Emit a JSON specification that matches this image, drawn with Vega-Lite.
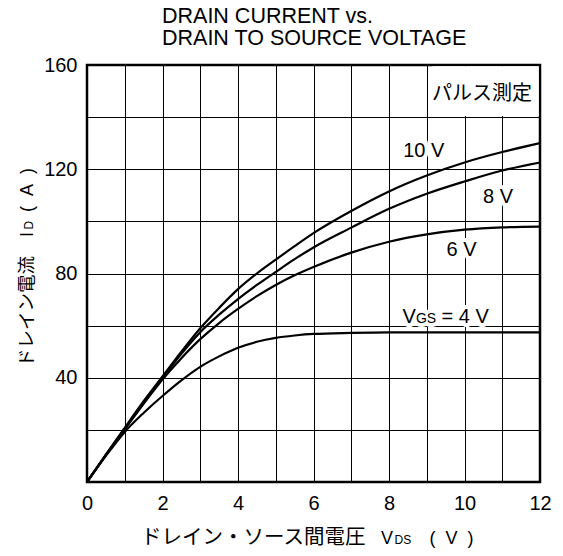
{
  "$schema": "https://vega.github.io/schema/vega-lite/v6.json",
  "width": 453,
  "height": 417,
  "autosize": {"type": "none"},
  "padding": {"left": 87, "top": 65, "right": 23, "bottom": 74},
  "background": "white",
  "config": {"view": {"stroke": "#000", "strokeWidth": 2.5}, "font": "Liberation Sans"},
  "title": {"text": ["DRAIN CURRENT vs.", "DRAIN TO SOURCE VOLTAGE"], "anchor": "start", "frame": "group", "dx": 75, "dy": 32, "offset": 15, "fontSize": 21.5, "fontWeight": "normal", "font": "Liberation Sans", "lineHeight": 22.4, "baseline": "bottom", "color": "#000"},
  "datasets": {
    "curves": [
      {"vgs": "10 V", "vds": 0, "id": 0}, {"vgs": "10 V", "vds": 0.5, "id": 10.5}, {"vgs": "10 V", "vds": 1, "id": 20.8}, {"vgs": "10 V", "vds": 1.5, "id": 31}, {"vgs": "10 V", "vds": 2, "id": 40.5}, {"vgs": "10 V", "vds": 2.5, "id": 50}, {"vgs": "10 V", "vds": 3, "id": 59}, {"vgs": "10 V", "vds": 3.5, "id": 66.8}, {"vgs": "10 V", "vds": 4, "id": 74}, {"vgs": "10 V", "vds": 4.5, "id": 80}, {"vgs": "10 V", "vds": 5, "id": 85.3}, {"vgs": "10 V", "vds": 5.5, "id": 90.5}, {"vgs": "10 V", "vds": 6, "id": 95.5}, {"vgs": "10 V", "vds": 7, "id": 104}, {"vgs": "10 V", "vds": 8, "id": 111.5}, {"vgs": "10 V", "vds": 9, "id": 117.6}, {"vgs": "10 V", "vds": 10, "id": 122.6}, {"vgs": "10 V", "vds": 11, "id": 126.6}, {"vgs": "10 V", "vds": 12, "id": 130},
      {"vgs": "8 V", "vds": 0, "id": 0}, {"vgs": "8 V", "vds": 0.5, "id": 10.4}, {"vgs": "8 V", "vds": 1, "id": 20.5}, {"vgs": "8 V", "vds": 1.5, "id": 30.5}, {"vgs": "8 V", "vds": 2, "id": 40}, {"vgs": "8 V", "vds": 2.5, "id": 49.2}, {"vgs": "8 V", "vds": 3, "id": 57.5}, {"vgs": "8 V", "vds": 3.5, "id": 64.2}, {"vgs": "8 V", "vds": 4, "id": 70.2}, {"vgs": "8 V", "vds": 4.5, "id": 75.6}, {"vgs": "8 V", "vds": 5, "id": 80.6}, {"vgs": "8 V", "vds": 5.5, "id": 85.5}, {"vgs": "8 V", "vds": 6, "id": 90}, {"vgs": "8 V", "vds": 7, "id": 97.6}, {"vgs": "8 V", "vds": 8, "id": 104.8}, {"vgs": "8 V", "vds": 9, "id": 110.6}, {"vgs": "8 V", "vds": 10, "id": 115.3}, {"vgs": "8 V", "vds": 11, "id": 119.5}, {"vgs": "8 V", "vds": 12, "id": 122.6},
      {"vgs": "6 V", "vds": 0, "id": 0}, {"vgs": "6 V", "vds": 0.5, "id": 10.3}, {"vgs": "6 V", "vds": 1, "id": 20.2}, {"vgs": "6 V", "vds": 1.5, "id": 30}, {"vgs": "6 V", "vds": 2, "id": 39.3}, {"vgs": "6 V", "vds": 2.5, "id": 47.5}, {"vgs": "6 V", "vds": 3, "id": 54.8}, {"vgs": "6 V", "vds": 3.5, "id": 61}, {"vgs": "6 V", "vds": 4, "id": 66.4}, {"vgs": "6 V", "vds": 4.5, "id": 71.3}, {"vgs": "6 V", "vds": 5, "id": 75.6}, {"vgs": "6 V", "vds": 5.5, "id": 79.3}, {"vgs": "6 V", "vds": 6, "id": 82.5}, {"vgs": "6 V", "vds": 7, "id": 88}, {"vgs": "6 V", "vds": 8, "id": 92.2}, {"vgs": "6 V", "vds": 9, "id": 95}, {"vgs": "6 V", "vds": 10, "id": 96.8}, {"vgs": "6 V", "vds": 11, "id": 97.7}, {"vgs": "6 V", "vds": 12, "id": 98},
      {"vgs": "4 V", "vds": 0, "id": 0}, {"vgs": "4 V", "vds": 0.5, "id": 10}, {"vgs": "4 V", "vds": 1, "id": 19.2}, {"vgs": "4 V", "vds": 1.5, "id": 26.5}, {"vgs": "4 V", "vds": 2, "id": 33}, {"vgs": "4 V", "vds": 2.5, "id": 39}, {"vgs": "4 V", "vds": 3, "id": 44.2}, {"vgs": "4 V", "vds": 3.5, "id": 48.2}, {"vgs": "4 V", "vds": 4, "id": 51.5}, {"vgs": "4 V", "vds": 4.5, "id": 53.8}, {"vgs": "4 V", "vds": 5, "id": 55.3}, {"vgs": "4 V", "vds": 5.5, "id": 56.2}, {"vgs": "4 V", "vds": 6, "id": 56.8}, {"vgs": "4 V", "vds": 7, "id": 57.2}, {"vgs": "4 V", "vds": 8, "id": 57.4}, {"vgs": "4 V", "vds": 9, "id": 57.4}, {"vgs": "4 V", "vds": 10, "id": 57.4}, {"vgs": "4 V", "vds": 11, "id": 57.4}, {"vgs": "4 V", "vds": 12, "id": 57.4}
    ],
    "boxes": [
      {"vds": 9.15, "vds2": 11.965, "id": 140.4, "id2": 159.5}
    ],
    "labels": [
      {"key": "main", "text": "10 V", "vds": 8.92, "id": 127},
      {"key": "main", "text": "8 V", "vds": 10.89, "id": 109.5},
      {"key": "main", "text": "6 V", "vds": 9.92, "id": 89.1},
      {"key": "vgs_v", "text": "V", "vds": 8.36, "id": 61},
      {"key": "vgs_gs", "text": "GS", "vds": 8.36, "id": 61},
      {"key": "vgs_eq", "text": "= 4 V", "vds": 8.36, "id": 61},
      {"key": "pulse", "text": "パルス測定", "vds": 11.79, "id": 148.7},
      {"key": "xt_ja", "text": "ドレイン・ソース間電圧", "vds": 0, "id": 0},
      {"key": "xt_v", "text": "V", "vds": 0, "id": 0},
      {"key": "xt_ds", "text": "DS", "vds": 0, "id": 0},
      {"key": "xt_unit", "text": "(\u00a0\u00a0V\u00a0\u00a0)", "vds": 0, "id": 0},
      {"key": "yt_ja", "text": "ドレイン電流", "vds": 0, "id": 0},
      {"key": "yt_i", "text": "I", "vds": 0, "id": 0},
      {"key": "yt_d", "text": "D", "vds": 0, "id": 0},
      {"key": "yt_unit", "text": "(\u00a0\u00a0A\u00a0\u00a0)", "vds": 0, "id": 0}
    ]
  },
  "encoding": {
    "x": {"field": "vds", "type": "quantitative", "scale": {"domain": [0, 12], "nice": false, "zero": false},
      "axis": {"values": [0,1,2,3,4,5,6,7,8,9,10,11,12], "grid": true, "gridColor": "#000", "gridWidth": 1, "gridOpacity": 1, "ticks": false, "tickSize": 0, "domain": false, "labelExpr": "datum.value % 2 === 0 ? datum.label : ''", "labelFontSize": 20, "labelFont": "Liberation Sans", "labelColor": "#000", "labelPadding": 11, "labelFlush": false, "labelOverlap": false, "labelBound": false, "title": null}},
    "y": {"field": "id", "type": "quantitative", "scale": {"domain": [0, 160], "nice": false},
      "axis": {"values": [0,20,40,60,80,100,120,140,160], "grid": true, "gridColor": "#000", "gridWidth": 1, "gridOpacity": 1, "ticks": false, "tickSize": 0, "domain": false, "labelExpr": "datum.value % 40 === 0 && datum.value > 0 ? datum.label : ''", "labelFontSize": 20, "labelFont": "Liberation Sans", "labelColor": "#000", "labelPadding": 10, "labelFlush": false, "labelOverlap": false, "labelBound": false, "title": null}}
  },
  "layer": [
    {
      "data": {"name": "curves"},
      "mark": {"type": "line", "interpolate": "monotone", "color": "#000", "strokeWidth": 2.2},
      "encoding": {"detail": {"field": "vgs"}}
    },
    {
      "data": {"name": "boxes"},
      "mark": {"type": "rect", "fill": "white"},
      "encoding": {"x2": {"field": "vds2"}, "y2": {"field": "id2"}}
    },
    {
      "data": {"name": "labels"}, "transform": [{"filter": "datum.key === 'main'"}],
      "mark": {"type": "text", "font": "Liberation Sans", "fontSize": 20, "align": "center", "baseline": "middle", "fill": "white", "stroke": "white", "strokeWidth": 8, "strokeJoin": "round"},
      "encoding": {"text": {"field": "text"}}
    },
    {
      "data": {"name": "labels"}, "transform": [{"filter": "datum.key === 'vgs_v'"}],
      "mark": {"type": "text", "font": "Liberation Sans", "fontSize": 20, "align": "left", "baseline": "alphabetic", "fill": "white", "stroke": "white", "strokeWidth": 8, "strokeJoin": "round"},
      "encoding": {"text": {"field": "text"}}
    },
    {
      "data": {"name": "labels"}, "transform": [{"filter": "datum.key === 'vgs_gs'"}],
      "mark": {"type": "text", "font": "Liberation Sans", "fontSize": 14, "align": "left", "baseline": "alphabetic", "dx": 13.3, "fill": "white", "stroke": "white", "strokeWidth": 8, "strokeJoin": "round"},
      "encoding": {"text": {"field": "text"}}
    },
    {
      "data": {"name": "labels"}, "transform": [{"filter": "datum.key === 'vgs_eq'"}],
      "mark": {"type": "text", "font": "Liberation Sans", "fontSize": 20, "align": "left", "baseline": "alphabetic", "dx": 39, "fill": "white", "stroke": "white", "strokeWidth": 8, "strokeJoin": "round"},
      "encoding": {"text": {"field": "text"}}
    },
    {
      "data": {"name": "labels"}, "transform": [{"filter": "datum.key === 'main'"}],
      "mark": {"type": "text", "font": "Liberation Sans", "fontSize": 20, "align": "center", "baseline": "middle", "fill": "#000"},
      "encoding": {"text": {"field": "text"}}
    },
    {
      "data": {"name": "labels"}, "transform": [{"filter": "datum.key === 'vgs_v'"}],
      "mark": {"type": "text", "font": "Liberation Sans", "fontSize": 20, "align": "left", "baseline": "alphabetic", "fill": "#000"},
      "encoding": {"text": {"field": "text"}}
    },
    {
      "data": {"name": "labels"}, "transform": [{"filter": "datum.key === 'vgs_gs'"}],
      "mark": {"type": "text", "font": "Liberation Sans", "fontSize": 14, "align": "left", "baseline": "alphabetic", "dx": 13.3, "fill": "#000"},
      "encoding": {"text": {"field": "text"}}
    },
    {
      "data": {"name": "labels"}, "transform": [{"filter": "datum.key === 'vgs_eq'"}],
      "mark": {"type": "text", "font": "Liberation Sans", "fontSize": 20, "align": "left", "baseline": "alphabetic", "dx": 39, "fill": "#000"},
      "encoding": {"text": {"field": "text"}}
    },
    {
      "data": {"name": "labels"}, "transform": [{"filter": "datum.key === 'pulse'"}],
      "mark": {"type": "text", "font": "Noto Sans CJK JP", "fontSize": 20, "align": "right", "baseline": "middle", "fill": "#000"},
      "encoding": {"text": {"field": "text"}}
    },
    {
      "data": {"name": "labels"}, "transform": [{"filter": "datum.key === 'xt_ja'"}],
      "mark": {"type": "text", "font": "Noto Sans CJK JP", "fontSize": 20.5, "align": "left", "baseline": "alphabetic", "dx": 54, "dy": 62, "fill": "#000"},
      "encoding": {"text": {"field": "text"}}
    },
    {
      "data": {"name": "labels"}, "transform": [{"filter": "datum.key === 'xt_v'"}],
      "mark": {"type": "text", "font": "Liberation Sans", "fontSize": 18, "align": "left", "baseline": "alphabetic", "dx": 294, "dy": 62, "fill": "#000"},
      "encoding": {"text": {"field": "text"}}
    },
    {
      "data": {"name": "labels"}, "transform": [{"filter": "datum.key === 'xt_ds'"}],
      "mark": {"type": "text", "font": "Liberation Sans", "fontSize": 12, "align": "left", "baseline": "alphabetic", "dx": 307.5, "dy": 62, "fill": "#000"},
      "encoding": {"text": {"field": "text"}}
    },
    {
      "data": {"name": "labels"}, "transform": [{"filter": "datum.key === 'xt_unit'"}],
      "mark": {"type": "text", "font": "Liberation Sans", "fontSize": 18, "align": "left", "baseline": "alphabetic", "dx": 342.5, "dy": 62, "fill": "#000"},
      "encoding": {"text": {"field": "text"}}
    },
    {
      "data": {"name": "labels"}, "transform": [{"filter": "datum.key === 'yt_ja'"}],
      "mark": {"type": "text", "font": "Noto Sans CJK JP", "fontSize": 18.5, "align": "left", "baseline": "alphabetic", "angle": 270, "dx": 115, "dy": -54.5, "fill": "#000"},
      "encoding": {"text": {"field": "text"}}
    },
    {
      "data": {"name": "labels"}, "transform": [{"filter": "datum.key === 'yt_i'"}],
      "mark": {"type": "text", "font": "Liberation Sans", "fontSize": 18, "align": "left", "baseline": "alphabetic", "angle": 270, "dx": 245, "dy": -54.5, "fill": "#000"},
      "encoding": {"text": {"field": "text"}}
    },
    {
      "data": {"name": "labels"}, "transform": [{"filter": "datum.key === 'yt_d'"}],
      "mark": {"type": "text", "font": "Liberation Sans", "fontSize": 12, "align": "left", "baseline": "alphabetic", "angle": 270, "dx": 252.5, "dy": -54.5, "fill": "#000"},
      "encoding": {"text": {"field": "text"}}
    },
    {
      "data": {"name": "labels"}, "transform": [{"filter": "datum.key === 'yt_unit'"}],
      "mark": {"type": "text", "font": "Liberation Sans", "fontSize": 18, "align": "left", "baseline": "alphabetic", "angle": 270, "dx": 270, "dy": -54.5, "fill": "#000"},
      "encoding": {"text": {"field": "text"}}
    }
  ]
}
